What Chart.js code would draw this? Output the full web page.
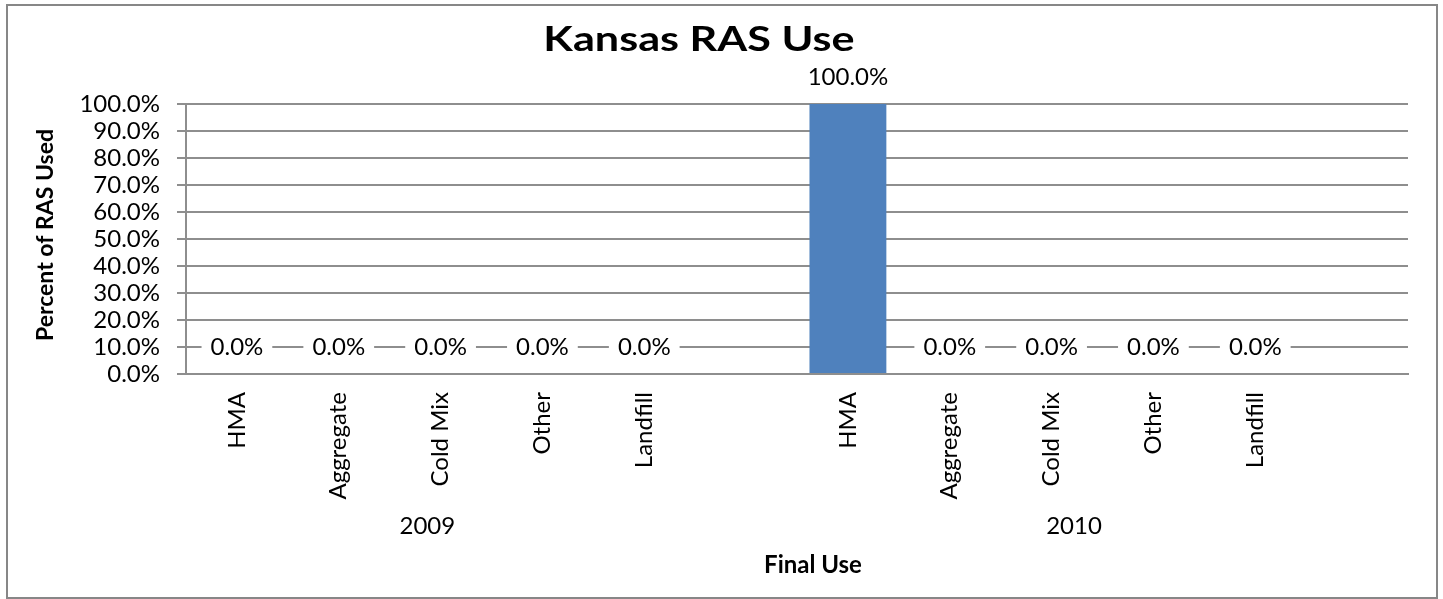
<!DOCTYPE html>
<html>
<head>
<meta charset="utf-8">
<title>Kansas RAS Use</title>
<script src="https://cdn.jsdelivr.net/npm/chart.js@4.4.1/dist/chart.umd.min.js"></script>
<style>
  html, body { margin: 0; padding: 0; background: #fff; }
  #wrap { width: 1443px; height: 599px; }
</style>
</head>
<body>
<div id="wrap"><canvas id="rasChart" width="1443" height="599"></canvas></div>
<script>
// share of reclaimed asphalt by final use, per year (fraction of total)
const years     = ['2009', '2010'];
const finalUses = ['HMA', 'Aggregate', 'Cold Mix', 'Other', 'Landfill'];
const pct2009   = [0, 0, 0, 0, 0];
const pct2010   = [1, 0, 0, 0, 0];
const yTicks    = [0, 0.1, 0.2, 0.3, 0.4, 0.5, 0.6, 0.7, 0.8, 0.9, 1];

// each year block gets an empty slot after it, like the sheet layout
const labels = [...finalUses, '', ...finalUses, ''];
const values = [...pct2009, null, ...pct2010, null];

const FONT = 'Lato, "Open Sans", sans-serif';
const GRID = '#8e8e8e';
const fmtPct = v => (v * 100).toFixed(1) + '%';

// frame, title, axis titles and year labels
const decor = {
  id: 'decor',
  beforeDraw(chart) {
    const { ctx } = chart;
    ctx.save();
    ctx.fillStyle = '#fff';
    ctx.fillRect(0, 0, chart.width, chart.height);
    ctx.restore();
  },
  afterDraw(chart) {
    const { ctx, scales: { x } } = chart;
    ctx.save();
    ctx.strokeStyle = '#878787';
    ctx.lineWidth = 2;
    ctx.strokeRect(7, 5, 1430, 593);

    ctx.fillStyle = '#000';
    ctx.textAlign = 'center';
    ctx.textBaseline = 'alphabetic';

    // title is set a little wide
    ctx.save();
    ctx.translate(699, 51);
    ctx.scale(1.27, 1);
    ctx.font = 'bold 34px ' + FONT;
    ctx.fillText('Kansas RAS Use', 0, 0);
    ctx.restore();

    ctx.font = 'bold 24px ' + FONT;
    ctx.fillText('Final Use', 813, 573);

    // year captions under each block of categories
    ctx.font = '24px ' + FONT;
    const anchors = [1.87, 8.22];
    years.forEach((yr, i) => {
      ctx.fillText(yr, x.getPixelForValue(anchors[i]), 534);
    });

    ctx.translate(46, 235);
    ctx.rotate(-Math.PI / 2);
    ctx.textBaseline = 'middle';
    ctx.font = 'bold 23px ' + FONT;
    ctx.fillText('Percent of RAS Used', 0, 0);
    ctx.restore();
  }
};

// value labels sitting above each bar on a white patch
const valueLabels = {
  id: 'valueLabels',
  afterDatasetsDraw(chart) {
    const { ctx } = chart;
    const meta = chart.getDatasetMeta(0);
    ctx.save();
    ctx.font = '24px ' + FONT;
    ctx.textAlign = 'center';
    ctx.textBaseline = 'middle';
    meta.data.forEach((bar, i) => {
      const v = values[i];
      if (v === null) return;
      const txt = fmtPct(v);
      const w = ctx.measureText(txt).width;
      const cy = bar.y - 27;
      ctx.fillStyle = '#fff';
      ctx.fillRect(bar.x - w / 2 - 9, cy - 12, w + 18, 24);
      ctx.fillStyle = '#000';
      ctx.fillText(txt, bar.x, cy);
    });
    ctx.restore();
  }
};

new Chart(document.getElementById('rasChart'), {
  type: 'bar',
  data: {
    labels,
    datasets: [{
      label: 'Percent of RAS Used',
      data: values,
      backgroundColor: '#4f81bd',
      borderWidth: 0,
      categoryPercentage: 1,
      barPercentage: 0.755
    }]
  },
  options: {
    responsive: false,
    animation: false,
    events: [],
    layout: { padding: { top: 104, right: 35, bottom: 0, left: 0 } },
    plugins: {
      legend: { display: false },
      tooltip: { enabled: false },
      title: { display: false }
    },
    scales: {
      x: {
        afterFit: s => { s.height = 225; },
        grid: { display: false, drawTicks: false },
        border: { display: true, color: GRID, width: 2 },
        ticks: {
          autoSkip: false,
          minRotation: 90,
          maxRotation: 90,
          padding: 18,
          color: '#000',
          font: { family: FONT, size: 24 }
        }
      },
      y: {
        min: 0,
        max: 1,
        afterFit: s => { s.width = 186; },
        afterBuildTicks: s => { s.ticks = yTicks.map(v => ({ value: v })); },
        grid: { color: GRID, lineWidth: 2, tickLength: 9, drawTicks: true },
        border: { display: true, color: GRID, width: 2 },
        ticks: {
          autoSkip: false,
          padding: 17,
          color: '#000',
          font: { family: FONT, size: 24 },
          callback: v => fmtPct(v)
        }
      }
    }
  },
  plugins: [decor, valueLabels]
});
</script>
</body>
</html>
